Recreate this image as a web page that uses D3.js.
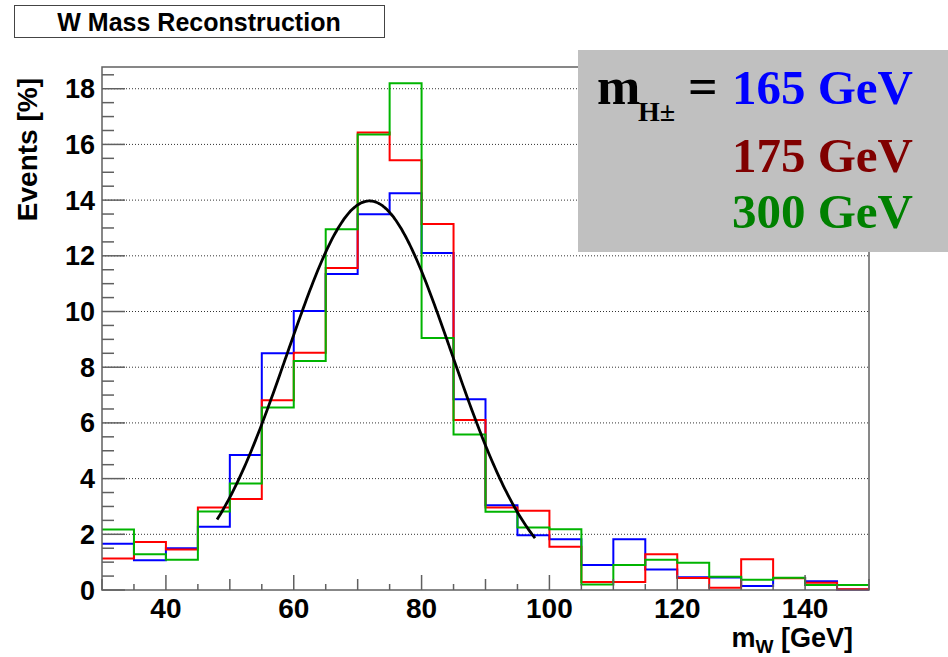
<!DOCTYPE html>
<html>
<head>
<meta charset="utf-8">
<script src="https://cdn.jsdelivr.net/npm/d3@7"></script>
<style>
  html, body { margin: 0; padding: 0; background: #fff; }
  svg { display: block; }
</style>
</head>
<body>
<svg id="chart" width="948" height="657"></svg>
<script>
// ---------------- data ----------------
const binEdges = [30,35,40,45,50,55,60,65,70,75,80,85,90,95,100,105,110,115,120,125,130,135,140,145,150];
const blueValues  = [1.66,1.07,1.50,2.27,4.85,8.50,10.02,11.35,13.49,14.25,12.10,6.85,3.04,1.97,1.82,0.90,1.82,0.74,0.46,0.45,0.14,0.43,0.31,0.02];
const redValues   = [1.13,1.72,1.45,2.96,3.27,6.81,8.52,11.56,16.43,15.43,13.14,6.10,2.96,2.85,1.55,0.29,0.29,1.28,0.43,0.08,1.10,0.42,0.26,0.03];
const greenValues = [2.17,1.28,1.09,2.82,3.82,6.55,8.22,12.95,16.36,18.20,9.05,5.58,2.81,2.24,2.18,0.20,0.90,1.09,0.98,0.48,0.37,0.44,0.18,0.18];
const seriesColors = ["#0000ff","#ff0000","#00b400"];
const legendLabels = ["165 GeV","175 GeV","300 GeV"];
const legendColors = ["#0000ff","#800000","#008000"];
// Gaussian fit drawn in black (parameters)
const fitAmplitude = 13.97;
const fitMean = 71.85;
const fitSigma = 12.9;
const fitRange = [48, 97.8];
const xTickLabels = [40,60,80,100,120,140];
const yTickLabels = [0,2,4,6,8,10,12,14,16,18];
const titleText = "W Mass Reconstruction";
const xTitle = "m";
const xTitleSub = "W";
const xTitleUnit = " [GeV]";
const yTitle = "Events [%]";

// ---------------- layout ----------------
const svg = d3.select("#chart");
const frame = {left: 102, right: 869, top: 67, bottom: 590};
const x = d3.scaleLinear().domain([30,150]).range([frame.left, frame.right]);
const y = d3.scaleLinear().domain([0, 18.78]).range([frame.bottom, frame.top]);
const axisColor = "#606060";
const sans = "'Liberation Sans', Arial, Helvetica, sans-serif";
const serif = "'Liberation Serif', 'Times New Roman', Times, serif";

// gridlines
svg.append("g").selectAll("line").data(yTickLabels.filter(d => d > 0)).join("line")
  .attr("x1", frame.left).attr("x2", frame.right)
  .attr("y1", d => y(d)).attr("y2", d => y(d))
  .attr("stroke", "#333").attr("stroke-width", 1).attr("stroke-dasharray", "1,2");

// histograms
const stepLine = d3.line().x(d => x(d[0])).y(d => y(d[1])).curve(d3.curveStepAfter);
[blueValues, redValues, greenValues].forEach((vals, i) => {
  const pts = vals.map((v, j) => [binEdges[j], v]);
  pts.push([binEdges[binEdges.length - 1], vals[vals.length - 1]]);
  svg.append("path").attr("d", stepLine(pts))
    .attr("fill", "none").attr("stroke", seriesColors[i]).attr("stroke-width", 2);
});

// fit curve
const fitPts = d3.range(fitRange[0], fitRange[1] + 0.001, 0.25).map(v =>
  [v, fitAmplitude * Math.exp(-0.5 * Math.pow((v - fitMean) / fitSigma, 2))]);
svg.append("path").attr("d", d3.line().x(d => x(d[0])).y(d => y(d[1])).curve(d3.curveMonotoneX)(fitPts))
  .attr("fill", "none").attr("stroke", "#000").attr("stroke-width", 2.8);

// frame
svg.append("rect").attr("x", frame.left).attr("y", frame.top)
  .attr("width", frame.right - frame.left).attr("height", frame.bottom - frame.top)
  .attr("fill", "none").attr("stroke", axisColor).attr("stroke-width", 1.5);

// y ticks
const yMinor = d3.range(0, 18.78, 0.5);
svg.append("g").selectAll("line").data(yMinor).join("line")
  .attr("x1", frame.left).attr("x2", d => frame.left + (Math.abs(d % 2) < 1e-9 ? 23 : 12))
  .attr("y1", d => y(d)).attr("y2", d => y(d))
  .attr("stroke", axisColor).attr("stroke-width", 1.5);
svg.append("g").selectAll("text").data(yTickLabels).join("text")
  .attr("x", 95).attr("y", d => y(d) + 9.5)
  .attr("text-anchor", "end").attr("font-family", sans).attr("font-weight", "bold")
  .attr("font-size", 27).text(d => d);

// x ticks
const xMinor = d3.range(30, 150.001, 5);
svg.append("g").selectAll("line").data(xMinor).join("line")
  .attr("x1", d => x(d)).attr("x2", d => x(d))
  .attr("y1", frame.bottom)
  .attr("y2", d => frame.bottom - (d % 20 === 0 ? 15 : (d % 10 === 0 ? 11 : 6)))
  .attr("stroke", axisColor).attr("stroke-width", 1.5);
svg.append("g").selectAll("text").data(xTickLabels).join("text")
  .attr("x", d => x(d)).attr("y", 618)
  .attr("text-anchor", "middle").attr("font-family", sans).attr("font-weight", "bold")
  .attr("font-size", 28).text(d => d);

// axis titles
const xt = svg.append("text").attr("x", 853).attr("y", 647).attr("text-anchor", "end")
  .attr("font-family", sans).attr("font-weight", "bold").attr("font-size", 27);
xt.append("tspan").text(xTitle);
xt.append("tspan").attr("font-size", 19).attr("dy", 6).text(xTitleSub);
xt.append("tspan").attr("dy", -6).text(xTitleUnit);

svg.append("text").attr("transform", "translate(37,78) rotate(-90)")
  .attr("text-anchor", "end").attr("font-family", sans).attr("font-weight", "bold")
  .attr("font-size", 28).text(yTitle);

// title box
svg.append("rect").attr("x", 14.5).attr("y", 5.5).attr("width", 370).attr("height", 32)
  .attr("fill", "#fff").attr("stroke", "#444").attr("stroke-width", 1);
svg.append("text").attr("x", 199).attr("y", 31).attr("text-anchor", "middle")
  .attr("font-family", sans).attr("font-weight", "bold").attr("font-size", 25).text(titleText);

// legend box
svg.append("rect").attr("x", 578).attr("y", 50).attr("width", 370).attr("height", 202)
  .attr("fill", "#c0c0c0");
svg.append("text").attr("x", 597).attr("y", 104).attr("font-family", serif)
  .attr("font-weight", "bold").attr("font-size", 52).text("m");
svg.append("text").attr("x", 638).attr("y", 121).attr("font-family", serif)
  .attr("font-weight", "bold").attr("font-size", 28).text("H±");
svg.append("text").attr("x", 688).attr("y", 104).attr("font-family", serif)
  .attr("font-weight", "bold").attr("font-size", 52).text("=");
const legendBaselines = [104, 172, 228];
svg.append("g").selectAll("text").data(legendLabels).join("text")
  .attr("x", 732).attr("y", (d, i) => legendBaselines[i])
  .attr("font-family", serif).attr("font-weight", "bold").attr("font-size", 49)
  .attr("fill", (d, i) => legendColors[i]).text(d => d);
</script>
</body>
</html>
